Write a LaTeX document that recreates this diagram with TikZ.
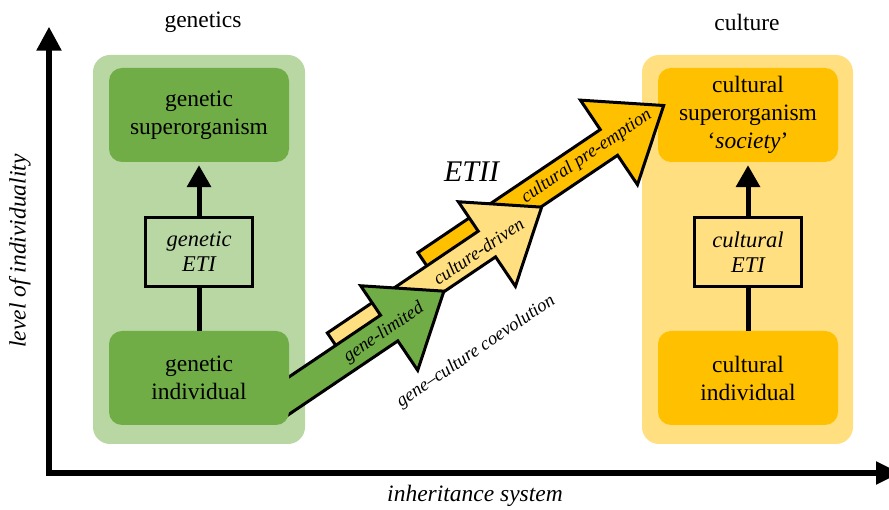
\documentclass[tikz,border=0pt]{standalone}
\usepackage{fontspec}
\setmainfont{Liberation Serif}
\usetikzlibrary{arrows.meta}
\definecolor{gl}{HTML}{B8D7A3}
\definecolor{gd}{HTML}{70AD47}
\definecolor{yl}{HTML}{FFDF80}
\definecolor{yd}{HTML}{FFC000}
\begin{document}
\begin{tikzpicture}[x=1pt,y=1pt,
  outerbox/.style={rounded corners=17pt, minimum width=212pt, minimum height=389pt, inner sep=0pt},
  innerbox/.style={rounded corners=13pt, minimum width=180pt, minimum height=94pt, align=center, font=\fontsize{23.5}{28}\selectfont, inner sep=0pt},
  etibox/.style={draw, line width=3.5pt, minimum width=106.6pt, minimum height=69.2pt, align=center, font=\fontsize{22.5}{25}\selectfont\itshape, inner sep=0pt},
  axisline/.style={line width=5.5pt, {Triangle[length=24pt,width=24pt]}-{Triangle[length=24pt,width=22pt]}},
  uparrow/.style={line width=5pt, -{Triangle[length=22pt,width=23.5pt]}, shorten >=3pt},
  stem/.style={line width=5pt},
  bigarrow/.style={draw, line width=3pt, line join=miter},
  arrowtext/.style={font=\fontsize{18.5}{20}\selectfont\itshape, rotate=34, inner sep=0pt},
  lbl/.style={font=\fontsize{23.5}{28}\selectfont, inner sep=0pt}
]
\clip (0,0) rectangle (889,510);
% outer boxes
\node[outerbox, fill=gl] (gout) at (199,260.5) {};
\node[outerbox, fill=yl, minimum width=211pt] (cout) at (747.5,260.5) {};
% culture column
\node[innerbox, fill=yd] (csup) at (748,395) {cultural\\superorganism\\‘\textit{society}’};
\node[innerbox, fill=yd] (cind) at (748,132) {cultural\\individual};
\node[etibox, fill=yl] (ceti) at (748,258) {cultural\\ETI};
\draw[stem] (cind.north) -- (ceti.south);
\draw[uparrow] (ceti.north) -- (csup.south);
% big arrows
\begin{scope}[shift={(390,182.5)}, rotate=34]
\path[bigarrow, fill=yd] (65,15.5) -- (285,15.5) -- (285,-20) -- (351,31) -- (285,82) -- (285,46.5) -- (65,46.5) -- cycle;
\path[bigarrow, fill=yl] (-55,-0.5) -- (127,-0.5) -- (127,-36) -- (193,15) -- (127,66) -- (127,30.5) -- (-55,30.5) -- cycle;
\path[bigarrow, fill=gd] (-140,-15.5) -- (-1,-15.5) -- (-1,-51) -- (65,0) -- (-1,51) -- (-1,15.5) -- (-140,15.5) -- cycle;
\node[arrowtext] (tgl) at (-8,-1) {gene-limited};
\node[arrowtext] (tcd) at (116,14) {culture-driven};
\node[arrowtext] (tcp) at (258.6,31.6) {cultural pre-emption};
\node[arrowtext] (tgcc) at (58,-68) {gene–culture coevolution};
\end{scope}
% genetics column
\node[innerbox, fill=gd] (gsup) at (199,395) {genetic\\superorganism};
\node[innerbox, fill=gd] (gind) at (199,132) {genetic\\individual};
\node[etibox, fill=gl] (geti) at (199,258) {genetic\\ETI};
\draw[stem] (gind.north) -- (geti.south);
\draw[uparrow] (geti.north) -- (gsup.south);
% axes
\coordinate (ytop) at (49,483.3);
\coordinate (orig) at (49,37);
\coordinate (xend) at (900,37);
\draw[axisline] (ytop) -- (orig) -- (xend);
% labels
\node[lbl] (lgen) at (203,488) {genetics};
\node[lbl] (lcul) at (747,488) {culture};
\node[lbl, font=\fontsize{23.5}{28}\selectfont\itshape] (lx) at (475,14) {inheritance system};
\node[lbl, font=\fontsize{23.5}{28}\selectfont\itshape, rotate=90] (ly) at (20,259) {level of individuality};
\node[lbl, font=\fontsize{30}{34}\selectfont\itshape] (etii) at (471.5,338) {ETII};
\end{tikzpicture}
\end{document}
